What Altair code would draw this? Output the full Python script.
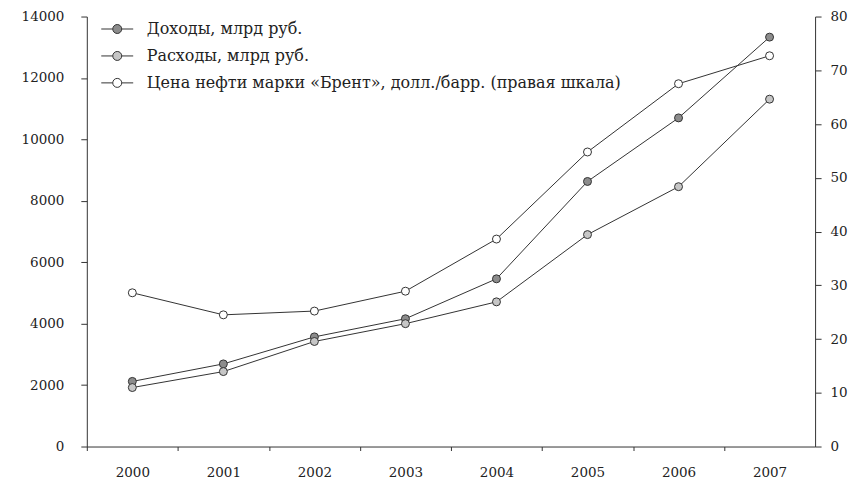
import altair as alt
import pandas as pd

years = ["2000", "2001", "2002", "2003", "2004", "2005", "2006", "2007"]
revenues = [2120, 2690, 3570, 4160, 5460, 8630, 10700, 13330]
expenses = [1920, 2440, 3420, 4000, 4710, 6900, 8460, 11310]
brent = [28.6, 24.5, 25.2, 28.9, 38.6, 54.8, 67.5, 72.7]
series_names = [
    "Доходы, млрд руб.",
    "Расходы, млрд руб.",
    "Цена нефти марки «Брент», долл./барр. (правая шкала)",
]
fills = ["#8c8c8c", "#c6c6c6", "#ffffff"]
left_ticks = [0, 2000, 4000, 6000, 8000, 10000, 12000, 14000]
right_ticks = [0, 10, 20, 30, 40, 50, 60, 70, 80]

FONT = "DejaVu Serif"
DARK = "#333333"

left_df = pd.DataFrame(
    {"year": years * 2,
     "series": [series_names[0]] * 8 + [series_names[1]] * 8,
     "value": revenues + expenses}
)
right_df = pd.DataFrame(
    {"year": years, "series": [series_names[2]] * 8, "value": brent}
)

W = 730
half = W / 16

x_enc = alt.X(
    "year:O",
    sort=years,
    scale=alt.Scale(type="point", padding=0.5),
    axis=alt.Axis(
        title=None, labelAngle=0, tickSize=4, tickOffset=-half, labelOffset=half,
        labelPadding=15, domainColor=DARK, tickColor=DARK, labelColor="#222",
        labelFont=FONT, labelFontSize=13.5, grid=False,
    ),
)

fill_scale = alt.Scale(domain=series_names, range=fills)
sym_path = ("M-1.6,0L-0.45,0M0.45,0L1.6,0"
            "M0.45,0A0.45,0.45,0,1,1,-0.45,0A0.45,0.45,0,1,1,0.45,0Z")
legend = alt.Legend(
    title=None, orient="none", legendX=20, legendY=2, padding=0,
    symbolType=sym_path, symbolSize=400, symbolStrokeColor=DARK,
    symbolStrokeWidth=1, symbolOpacity=1, labelOffset=19, rowPadding=8,
    labelFont=FONT, labelFontSize=16, labelColor="#222", labelLimit=0,
)

y_left = alt.Y(
    "value:Q",
    scale=alt.Scale(domain=[0, 14000], nice=False),
    axis=alt.Axis(
        title=None, values=left_ticks, format="d", grid=False, tickSize=6,
        labelPadding=17, domainColor=DARK, tickColor=DARK, labelColor="#222",
        labelFont=FONT, labelFontSize=13.5, orient="left",
    ),
)
y_right = alt.Y(
    "value:Q",
    scale=alt.Scale(domain=[0, 80], nice=False),
    axis=alt.Axis(
        title=None, values=right_ticks, format="d", grid=False, tickSize=6,
        labelPadding=9, domainColor=DARK, tickColor=DARK, labelColor="#222",
        labelFont=FONT, labelFontSize=13.5, orient="right",
    ),
)

base_l = alt.Chart(left_df)
left = alt.layer(
    base_l.mark_line(color=DARK, strokeWidth=1).encode(x=x_enc, y=y_left, detail="series:N"),
    base_l.mark_point(shape="circle", filled=True, size=64, stroke=DARK,
                      strokeWidth=1, opacity=1).encode(
        x=x_enc, y=y_left,
        fill=alt.Fill("series:N", scale=fill_scale, legend=legend)),
)
base_r = alt.Chart(right_df)
right = alt.layer(
    base_r.mark_line(color=DARK, strokeWidth=1).encode(x=x_enc, y=y_right),
    base_r.mark_point(shape="circle", filled=True, size=64, stroke=DARK,
                      strokeWidth=1, opacity=1).encode(
        x=x_enc, y=y_right,
        fill=alt.Fill("series:N", scale=fill_scale, legend=legend)),
)

chart = (
    alt.layer(left, right)
    .resolve_scale(y="independent")
    .properties(
        width=W, height=431,
        padding={"left": 79, "top": 8, "right": 36, "bottom": 34},
        autosize=alt.AutoSizeParams(type="none"),
        background="white",
    )
    .configure_view(stroke=None)
)

chart.save("out.html", embed_options={"renderer": "svg", "actions": False})
